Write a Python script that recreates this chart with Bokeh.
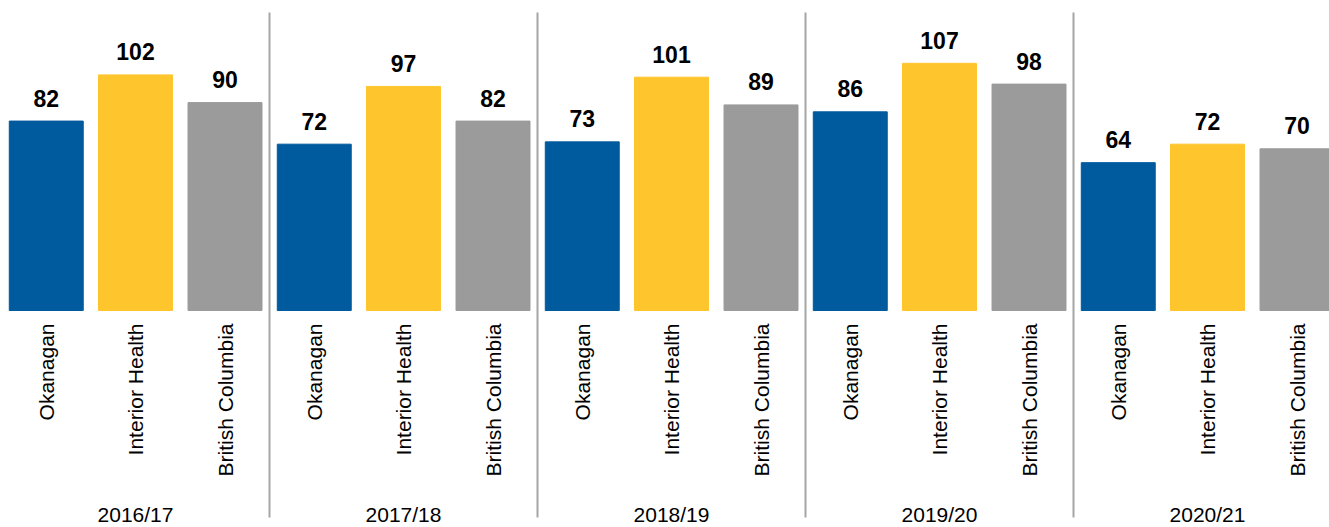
from bokeh.plotting import figure
from bokeh.models import Range1d, ColumnDataSource
from bokeh.core.properties import value
from bokeh.embed import file_html
from bokeh.resources import INLINE
import math

years = ["2016/17", "2017/18", "2018/19", "2019/20", "2020/21"]
regions = ["Okanagan", "Interior Health", "British Columbia"]
okanagan = [82, 72, 73, 86, 64]
interior = [102, 97, 101, 107, 72]
bc = [90, 82, 89, 98, 70]
colors = ["#005A9E", "#FFC52D", "#9B9B9B"]

offsets = [-0.333, 0.0, 0.334]
series = [okanagan, interior, bc]

p = figure(width=1329, height=527, output_backend="svg", toolbar_location=None,
           x_range=Range1d(-0.00373, 4.95522), y_range=Range1d(-93.94, 134.20),
           min_border=0, min_border_left=0, min_border_right=0,
           min_border_top=0, min_border_bottom=0)
p.axis.visible = False
p.grid.visible = False
p.outline_line_color = None
p.background_fill_color = "white"

for k, (vals, off, col) in enumerate(zip(series, offsets, colors)):
    xs = [i + 0.5 + off for i in range(len(years))]
    src = ColumnDataSource(dict(x=xs, top=vals, lab=[str(v) for v in vals],
                                cat=[regions[k]] * len(years)))
    p.vbar(x="x", top="top", bottom=0, width=0.276, color=col, source=src)
    p.text(x="x", y="top", text="lab", source=src, y_offset=-23,
           text_align="center", text_baseline="middle",
           text_font=value("Liberation Sans"), text_font_style="bold",
           text_font_size="23px", text_color="black")
    p.text(x="x", y=-5.63, text="cat", source=src, angle=math.pi / 2,
           text_align="right", text_baseline="middle",
           text_font=value("Liberation Sans"), text_font_size="21px",
           text_color="black")

ysrc = ColumnDataSource(dict(x=[i + 0.5 for i in range(len(years))], t=years))
p.text(x="x", y=-88.3, text="t", source=ysrc, text_align="center",
       text_baseline="middle", text_font=value("Liberation Sans"),
       text_font_size="21px", text_color="black")

seps = list(range(1, len(years)))
p.segment(x0=seps, x1=seps, y0=[129.0] * len(seps), y1=[-89.6] * len(seps),
          line_color="#A6A6A6", line_width=2)

open("out.html", "w").write(file_html(p, INLINE))
